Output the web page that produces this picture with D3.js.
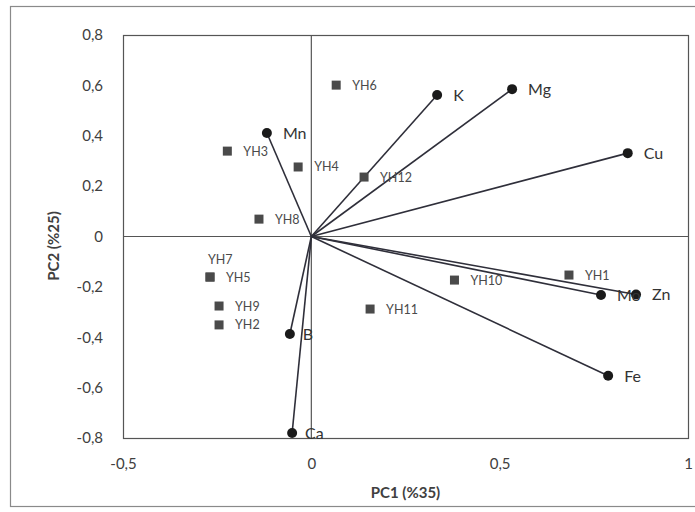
<!DOCTYPE html>
<html><head><meta charset="utf-8">
<script src="https://cdn.jsdelivr.net/npm/d3@7"></script>
<style>body{margin:0;background:#fff}svg{display:block}</style>
</head><body>
<svg id="chart" width="695" height="512"></svg>
<script>
// Variable loadings (vectors)
const varNames = ["Mn","K","Mg","Cu","Mo","Zn","Fe","B","Ca"];
const varPC1   = [-0.118, 0.334, 0.533, 0.840, 0.769, 0.862, 0.788, -0.057, -0.051];
const varPC2   = [0.411, 0.562, 0.585, 0.331, -0.232, -0.230, -0.553, -0.387, -0.780];
// Sample scores
const sampleNames = ["YH1","YH2","YH3","YH4","YH5","YH6","YH7","YH8","YH9","YH10","YH11","YH12"];
const samplePC1   = [0.684, -0.245, -0.223, -0.035, -0.269, 0.066, -0.269, -0.139, -0.245, 0.380, 0.156, 0.140];
const samplePC2   = [-0.153, -0.351, 0.339, 0.276, -0.161, 0.601, -0.161, 0.069, -0.276, -0.173, -0.288, 0.236];
const xTicks = [-0.5, 0, 0.5, 1];
const xTickLabels = ["-0,5","0","0,5","1"];
const yTicks = [-0.8,-0.6,-0.4,-0.2,0,0.2,0.4,0.6,0.8];
const yTickLabels = ["-0,8","-0,6","-0,4","-0,2","0","0,2","0,4","0,6","0,8"];

const svg = d3.select("#chart");
const font = "Lato, 'Open Sans', sans-serif";
const L = 123, R = 688, T = 35, B = 438;
const x = d3.scaleLinear().domain([-0.5, 1]).range([L, R]);
const y = d3.scaleLinear().domain([-0.8, 0.8]).range([B, T]);

// outer frame
svg.append("rect").attr("x",10.5).attr("y",6.5).attr("width",700).attr("height",500)
  .attr("fill","none").attr("stroke","#8a8a8a").attr("stroke-width",1.2);

// plot border
svg.append("rect").attr("x",L+0.5).attr("y",T+0.5).attr("width",R-L).attr("height",B-T)
  .attr("fill","none").attr("stroke","#555").attr("stroke-width",1.2);

// zero lines
svg.append("line").attr("x1",x(0)).attr("x2",x(0)).attr("y1",T).attr("y2",B)
  .attr("stroke","#555").attr("stroke-width",1.2);
svg.append("line").attr("x1",L).attr("x2",R).attr("y1",y(0)).attr("y2",y(0))
  .attr("stroke","#555").attr("stroke-width",1.2);

// axes via d3 axis generators (ticks only as labels)
const xAxis = d3.axisBottom(x).tickValues(xTicks).tickSize(0).tickPadding(0)
  .tickFormat((d,i)=>xTickLabels[i]);
const gx = svg.append("g").attr("transform",`translate(0,${B+20})`).call(xAxis);
gx.select(".domain").remove();
gx.selectAll("text").attr("font-family",font).attr("font-size",15).attr("fill","#404040");

const yAxis = d3.axisLeft(y).tickValues(yTicks).tickSize(0).tickPadding(0)
  .tickFormat((d,i)=>yTickLabels[i]);
const gy = svg.append("g").attr("transform",`translate(${L-20},0)`).call(yAxis);
gy.select(".domain").remove();
gy.selectAll("text").attr("font-family",font).attr("font-size",15).attr("fill","#404040");

// axis titles
svg.append("text").attr("x",(L+R)/2).attr("y",498).attr("text-anchor","middle")
  .attr("font-family",font).attr("font-size",15).attr("font-weight","bold").attr("fill","#404040")
  .text("PC1 (%35)");
svg.append("text").attr("transform","translate(59,246) rotate(-90)").attr("text-anchor","middle")
  .attr("font-family",font).attr("font-size",15).attr("font-weight","bold").attr("fill","#404040")
  .text("PC2 (%25)");

// vectors
const vars = varNames.map((n,i)=>({n, a:varPC1[i], b:varPC2[i]}));
svg.append("g").selectAll("line").data(vars).join("line")
  .attr("x1",x(0)).attr("y1",y(0)).attr("x2",d=>x(d.a)).attr("y2",d=>y(d.b))
  .attr("stroke","#2f2f3a").attr("stroke-width",1.6);
svg.append("g").selectAll("circle").data(vars).join("circle")
  .attr("cx",d=>x(d.a)).attr("cy",d=>y(d.b)).attr("r",5).attr("fill","#1a1a1a");
svg.append("g").selectAll("text").data(vars).join("text")
  .attr("x",d=>x(d.a)+(d.n==="B"||d.n==="Ca"?13:16)).attr("y",d=>y(d.b)+6)
  .attr("font-family",font).attr("font-size",16).attr("fill","#333")
  .text(d=>d.n);

// samples
const samples = sampleNames.map((n,i)=>({n, a:samplePC1[i], b:samplePC2[i]}));
svg.append("g").selectAll("rect").data(samples).join("rect")
  .attr("x",d=>x(d.a)-4.5).attr("y",d=>y(d.b)-4.5).attr("width",9).attr("height",9)
  .attr("fill","#4a4a4a");
svg.append("g").selectAll("text").data(samples).join("text")
  .attr("x",d=>d.n==="YH7" ? x(d.a)-2 : x(d.a)+16)
  .attr("y",d=>d.n==="YH7" ? y(d.b)-13 : y(d.b)+4.5)
  .attr("font-family",font).attr("font-size",12.5).attr("fill","#4a4a4a")
  .text(d=>d.n);
</script>
</body></html>
